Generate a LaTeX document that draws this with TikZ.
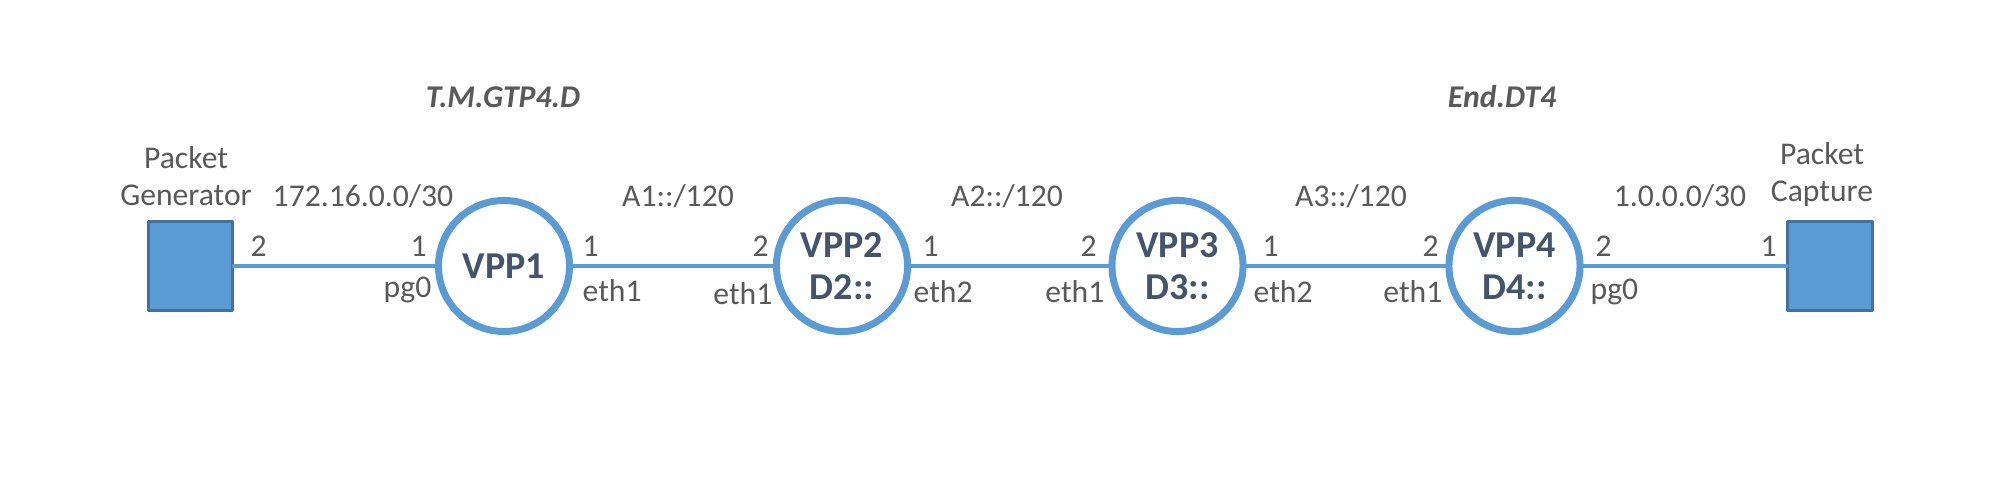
\documentclass[tikz,border=0pt]{standalone}
\usepackage{fontspec}
\setmainfont{Carlito}
\usepackage{tikz}
\usetikzlibrary{positioning}
\definecolor{linkblue}{HTML}{5B9BD5}
\definecolor{hostedge}{HTML}{41719C}
\definecolor{labelgray}{HTML}{595959}
\definecolor{vppblue}{HTML}{44546A}

\begin{document}
\begin{tikzpicture}[line cap=round,line join=round,x=0.01cm,y=0.01cm,
  link/.style={draw=linkblue,line width=0.045cm},
  vpp/.style={circle,draw=linkblue,line width=0.07cm,fill=white,minimum size=1.31cm,inner sep=0pt,align=center,text=vppblue,font=\fontsize{10.8}{12}\selectfont\bfseries},
  host/.style={rectangle,draw=hostedge,fill=linkblue,line width=0.03cm,minimum width=0.84cm,minimum height=0.89cm,inner sep=0pt},
  port/.style={inner sep=0pt,text=labelgray,font=\fontsize{9}{10.5}\selectfont},
  hostname/.style={inner sep=0pt,align=center,text=labelgray,font=\fontsize{9}{10.5}\selectfont},
  func/.style={inner sep=0pt,text=labelgray,font=\fontsize{9}{10.5}\selectfont\bfseries\itshape}]
\useasboundingbox (0,0) rectangle (1999,485);
% hosts and routers
\node[host] (pgen) at (190.5,219) {};
\node[host] (pcap) at (1830,219) {};
\node[vpp] (vpp1) at (504,219) {VPP1};
\node[vpp] (vpp2) at (842,219) {VPP2\\D2::};
\node[vpp] (vpp3) at (1177.5,219) {VPP3\\D3::};
\node[vpp] (vpp4) at (1514.5,219) {VPP4\\D4::};
% links
\draw[link] (pgen) -- (vpp1);
\draw[link] (vpp1) -- (vpp2);
\draw[link] (vpp2) -- (vpp3);
\draw[link] (vpp3) -- (vpp4);
\draw[link] (vpp4) -- (pcap);
% host names and SRv6 functions
\node[hostname] (gentxt) at (186,309) {Packet\\Generator};
\node[hostname] (captxt) at (1822,310) {Packet\\Capture};
\node[func] (fn1) at (503,388) {T.M.GTP4.D};
\node[func] (fn4) at (1502,388) {End.DT4};
% subnets
\node[port,anchor=base] (net1) at (363,278) {172.16.0.0/30};
\node[port,anchor=base] (net2) at (678,278) {A1::/120};
\node[port,anchor=base] (net3) at (1007,278) {A2::/120};
\node[port,anchor=base] (net4) at (1351,278) {A3::/120};
\node[port,anchor=base] (net5) at (1680,278) {1.0.0.0/30};
% port numbers
\node[port,anchor=base west] (p1) at (250,228) {2};
\node[port,anchor=base west] (p2) at (410,228) {1};
\node[port,anchor=base west] (p3) at (582,228) {1};
\node[port,anchor=base west] (p4) at (752,228) {2};
\node[port,anchor=base west] (p5) at (922,228) {1};
\node[port,anchor=base west] (p6) at (1080,228) {2};
\node[port,anchor=base west] (p7) at (1262,228) {1};
\node[port,anchor=base west] (p8) at (1422,228) {2};
\node[port,anchor=base west] (p9) at (1595,228) {2};
\node[port,anchor=base west] (p10) at (1760,228) {1};
% interfaces
\node[port,anchor=base east] (if1) at (432,187) {pg0};
\node[port,anchor=base west] (if2) at (582,183) {eth1};
\node[port,anchor=base east] (if3) at (773,180) {eth1};
\node[port,anchor=base west] (if4) at (913,182) {eth2};
\node[port,anchor=base east] (if5) at (1105,182) {eth1};
\node[port,anchor=base west] (if6) at (1253,182) {eth2};
\node[port,anchor=base east] (if7) at (1443,182) {eth1};
\node[port,anchor=base west] (if8) at (1590,185) {pg0};
\end{tikzpicture}
\end{document}
